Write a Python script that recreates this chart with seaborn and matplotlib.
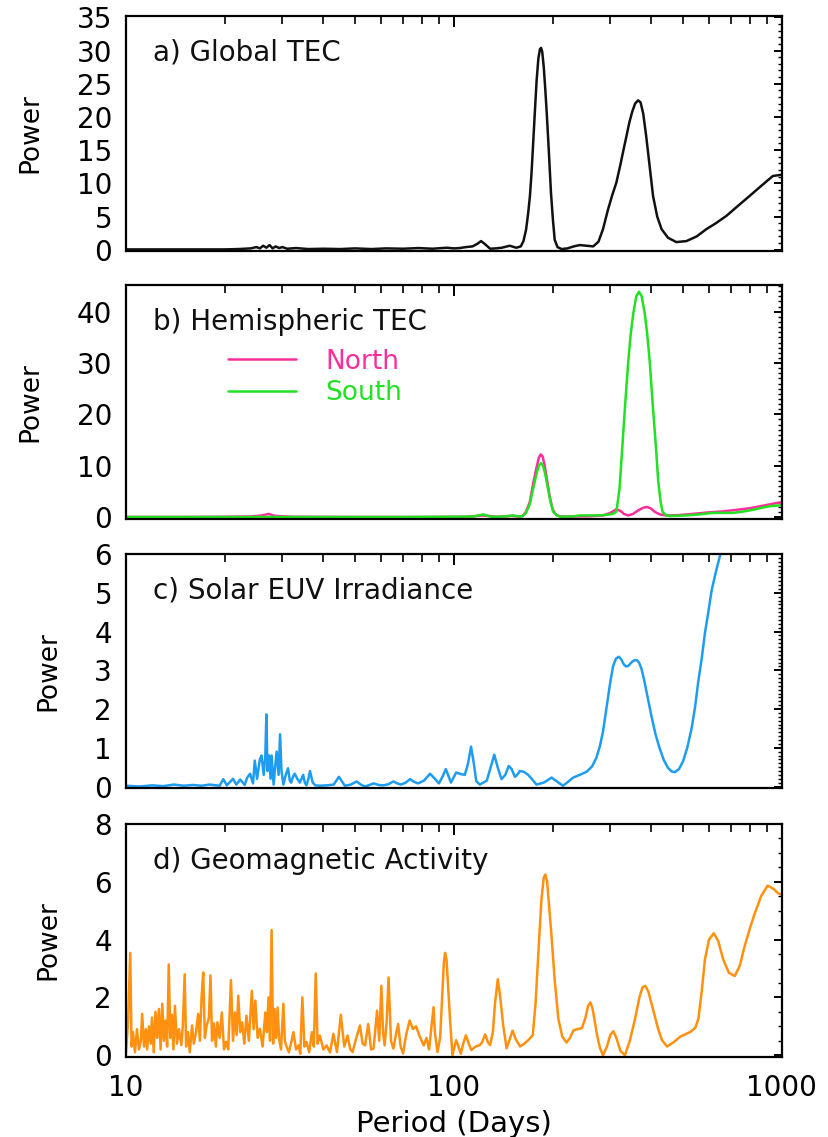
import matplotlib
matplotlib.use("Agg")
import matplotlib.pyplot as plt
import numpy as np
import pandas as pd
import seaborn as sns
from matplotlib.ticker import MultipleLocator, FixedLocator, LogLocator, NullFormatter

# ---------------- data ----------------
# a) Global TEC
period_a = [10, 12, 15, 18, 20, 22, 24, 25, 25.6, 26.2,
            26.8, 27.4, 28, 28.6, 29.3, 30, 31, 33, 36, 40,
            45, 50, 56, 62, 70, 78, 86, 95, 100, 104,
            109, 114, 118, 121, 124, 129, 134, 140, 148, 155,
            160, 163, 166, 168.5, 170.6, 172.5, 174.5, 176.7, 178.8, 181,
            183, 184.5, 186, 188, 190, 192, 194.5, 197.8, 200.5, 203,
            207, 213, 222, 232, 242, 254, 266, 276, 285, 295,
            304, 313, 322, 329, 336, 343, 350, 357, 364.5, 371,
            378, 386, 395, 405, 417, 430, 450, 477, 512, 550,
            589, 630, 678, 735, 798, 865, 939, 1000]
power_a = [0.05, 0.05, 0.05, 0.05, 0.05, 0.1, 0.2, 0.4, 0.2, 0.6,
           0.3, 0.7, 0.2, 0.5, 0.25, 0.4, 0.15, 0.25, 0.1, 0.15,
           0.1, 0.2, 0.1, 0.2, 0.15, 0.25, 0.15, 0.3, 0.2, 0.25,
           0.4, 0.5, 0.9, 1.3, 0.9, 0.15, 0.2, 0.3, 0.6, 0.3,
           0.5, 1.3, 3.0, 5.5, 8.1, 11.5, 16.0, 21.0, 25.5, 28.8,
           30.2, 30.4, 29.8, 27.5, 24.2, 20.5, 15.5, 8.5, 4.5, 1.5,
           0.4, 0.1, 0.2, 0.5, 0.7, 0.6, 0.5, 1.2, 3.1, 6.0,
           8.2, 10.1, 12.8, 15.0, 17.1, 19.2, 20.8, 22.0, 22.5, 22.2,
           20.5, 17.1, 12.8, 8.1, 5.0, 3.1, 1.8, 1.15, 1.3, 2.0,
           3.1, 4.0, 5.1, 6.6, 8.1, 9.6, 11.1, 11.3]

# b) Hemispheric TEC
period_north = [10, 15, 20, 24, 26, 27.2, 28.5, 32, 50, 80,
                110, 122.8, 135, 150, 158, 162, 166, 170.6, 174.5, 178.5,
                181.5, 184, 186.5, 189, 192, 196, 200, 205, 212, 230,
                260, 285, 300, 313, 322, 330, 340, 352, 365, 378,
                388, 398, 410, 425, 445, 480, 535, 600, 662, 730,
                798, 860, 918, 960, 1000]
power_north = [0.0, 0.0, 0.05, 0.1, 0.3, 0.6, 0.2, 0.05, 0.0, 0.0,
               0.05, 0.3, 0.05, 0.2, 0.1, 0.2, 1.0, 3.0, 6.5, 9.5,
               11.5, 12.2, 11.8, 10.2, 7.5, 4.0, 1.5, 0.4, 0.1, 0.1,
               0.15, 0.3, 0.8, 1.5, 1.2, 0.6, 0.3, 0.6, 1.3, 1.8,
               1.95, 1.7, 1.0, 0.5, 0.3, 0.35, 0.6, 0.9, 1.1, 1.4,
               1.7, 2.1, 2.45, 2.7, 2.85]
period_south = [10, 20, 40, 70, 100, 115, 122.8, 130, 140, 151.6,
                158, 162, 166, 170.6, 174.5, 178.5, 181.5, 184.5, 187, 190,
                193, 197, 201, 206, 212, 230, 242, 270, 292, 305,
                313, 320, 326.6, 333, 340, 346, 352.6, 360, 367, 374,
                382, 389, 396, 404, 413, 420, 427, 433, 445, 456,
                512, 560, 617, 711, 770, 818, 870, 918, 1000]
power_south = [0.0, 0.0, 0.0, 0.0, 0.05, 0.1, 0.5, 0.05, 0.05, 0.3,
               0.1, 0.15, 0.8, 2.6, 5.5, 8.3, 10.0, 10.5, 10.0, 8.3,
               6.0, 3.0, 1.0, 0.3, 0.05, 0.1, 0.3, 0.3, 0.4, 0.6,
               1.0, 5.5, 13.9, 22.0, 30.0, 35.5, 39.7, 43.0, 43.9, 43.0,
               39.7, 35.5, 30.0, 22.0, 13.9, 7.0, 3.0, 1.0, 0.3, 0.2,
               0.3, 0.5, 0.8, 0.8, 1.1, 1.4, 1.8, 2.1, 2.3]

# c) Solar EUV irradiance
period_c = [10, 11, 12, 13, 14, 15, 16, 17, 18, 19.3,
            19.8, 20.3, 21.2, 21.7, 22.3, 23.0, 23.4, 23.9, 24.4, 24.7,
            25.1, 25.6, 25.9, 26.3, 26.6, 26.8, 27.0, 27.3, 27.6, 27.8,
            28.2, 28.5, 28.8, 29.2, 29.5, 29.8, 30.2, 30.7, 31.2, 31.6,
            31.9, 32.3, 32.7, 33.3, 33.9, 34.3, 34.7, 35.1, 35.5, 36.0,
            36.4, 37.1, 37.8, 39, 41, 43, 44.6, 46.5, 48.5, 50.5,
            52, 53.6, 55.3, 56.9, 59, 61, 63.2, 65.4, 67.2, 69,
            71.3, 73.5, 75.6, 77.7, 81, 84.6, 87.5, 90, 92.3, 94.5,
            96, 98, 101.6, 105, 108, 110.5, 112.8, 115, 117, 120,
            123, 126, 129.5, 132.8, 136, 139.7, 143.5, 147, 150, 153.5,
            156, 159, 163.5, 168.5, 173.5, 178.6, 188, 198.6, 207, 215,
            223, 231, 242, 254, 264, 272, 279, 285, 290, 295,
            300, 306, 312, 318.5, 324, 330, 335, 340, 346, 352,
            357, 362, 367, 373, 380, 390, 400, 412, 424, 437,
            450, 461, 472, 486, 500, 515, 531, 544, 556, 570,
            583, 597, 611, 630, 650, 670]
power_c = [0.02, 0.0, 0.03, 0.01, 0.05, 0.02, 0.04, 0.02, 0.05, 0.02,
           0.19, 0.03, 0.2, 0.05, 0.18, 0.04, 0.22, 0.33, 0.08, 0.67,
           0.2, 0.7, 0.8, 0.3, 0.8, 1.86, 0.4, 0.8, 0.2, 0.8,
           0.05, 0.5, 0.9, 0.3, 1.35, 0.4, 0.05, 0.3, 0.47, 0.15,
           0.1, 0.25, 0.33, 0.2, 0.1, 0.2, 0.3, 0.1, 0.03, 0.2,
           0.4, 0.1, 0.03, 0.02, 0.03, 0.05, 0.25, 0.02, 0.05, 0.13,
           0.05, 0.0, 0.04, 0.08, 0.04, 0.03, 0.06, 0.13, 0.08, 0.05,
           0.1, 0.19, 0.12, 0.08, 0.15, 0.33, 0.2, 0.08, 0.25, 0.45,
           0.3, 0.1, 0.36, 0.32, 0.3, 0.6, 1.03, 0.6, 0.14, 0.05,
           0.1, 0.15, 0.5, 0.82, 0.5, 0.19, 0.3, 0.53, 0.45, 0.25,
           0.3, 0.4, 0.38, 0.3, 0.18, 0.05, 0.1, 0.23, 0.12, 0.02,
           0.12, 0.23, 0.3, 0.38, 0.52, 0.74, 1.05, 1.42, 1.85, 2.26,
           2.7, 3.11, 3.3, 3.35, 3.28, 3.15, 3.1, 3.11, 3.18, 3.24,
           3.26, 3.26, 3.2, 3.05, 2.77, 2.3, 1.84, 1.35, 0.99, 0.68,
           0.48, 0.39, 0.37, 0.45, 0.65, 1.0, 1.5, 2.05, 2.69, 3.3,
           3.96, 4.5, 5.06, 5.55, 6.0, 6.45]

# d) Geomagnetic activity
period_d = [10.0, 10.15, 10.3, 10.4, 10.5, 10.65, 10.8, 10.95, 11.1, 11.2,
            11.35, 11.5, 11.6, 11.75, 11.9, 12.0, 12.15, 12.3, 12.45, 12.6,
            12.75, 12.9, 13.05, 13.2, 13.35, 13.5, 13.65, 13.8, 13.95, 14.1,
            14.3, 14.5, 14.75, 14.9, 15.1, 15.25, 15.45, 15.65, 15.9, 16.1,
            16.35, 16.6, 16.8, 17.0, 17.2, 17.4, 17.6, 17.9, 18.1, 18.3,
            18.55, 18.8, 19.0, 19.3, 19.6, 19.9, 20.2, 20.5, 20.9, 21.2,
            21.5, 21.75, 22.0, 22.3, 22.6, 22.95, 23.3, 23.7, 24.2, 24.5,
            24.8, 25.2, 25.6, 26.1, 26.6, 26.9, 27.2, 27.5, 27.8, 28.1,
            28.4, 28.7, 29.0, 29.3, 29.7, 30.2, 30.5, 30.8, 31.4, 32.0,
            32.4, 33.0, 33.6, 34.0, 34.5, 35.0, 35.5, 36.2, 36.9, 37.4,
            37.9, 38.4, 39.0, 40.0, 40.9, 41.9, 42.9, 44.0, 45.2, 46.3,
            47.4, 48.3, 49.1, 50.4, 51.7, 52.7, 53.6, 54.8, 55.9, 56.9,
            57.6, 58.3, 59.2, 60.1, 60.8, 61.5, 62.4, 63.2, 64.3, 65.4,
            66.5, 67.6, 68.8, 70.0, 71.5, 73.3, 75.0, 76.7, 78.5, 80.9,
            82.5, 84.0, 85.5, 86.7, 87.5, 89.1, 90.8, 92.3, 93.2, 94.0,
            95.0, 96.0, 97.3, 99.0, 101.6, 103.3, 105.0, 106.8, 108.8, 111.0,
            113.0, 116.5, 119.9, 122.0, 124.6, 127.0, 129.0, 131.5, 133.5, 136.1,
            138.5, 141.4, 144.8, 148.0, 151.0, 154.5, 159.2, 164.0, 168.5, 174.0,
            177.5, 181.0, 185.0, 188.0, 190.0, 192.5, 195.0, 198.6, 203.0, 208.3,
            214.0, 220.5, 226.0, 231.5, 238.0, 245.7, 252.0, 256.5, 260.8, 265.0,
            273.4, 279.0, 285.0, 293.0, 300.0, 306.6, 313.0, 322.0, 332.5, 344.0,
            357.0, 368.0, 376.0, 383.6, 392.0, 407.0, 420.0, 431.4, 447.0, 468.0,
            490.0, 527.0, 545.0, 557.0, 570.0, 583.0, 600.0, 620.6, 640.0, 663.0,
            690.0, 719.0, 745.0, 770.0, 800.0, 827.0, 865.0, 906.0, 945.0, 975.0,
            1000.0]
power_d = [0.1, 1.2, 3.54, 0.3, 0.8, 0.1, 0.9, 0.2, 0.5, 1.43,
           0.3, 0.9, 0.2, 1.0, 0.4, 1.3, 0.1, 1.5, 0.6, 1.6,
           0.2, 1.78, 0.5, 1.2, 0.3, 3.14, 0.6, 1.4, 0.2, 1.71,
           0.4, 0.9, 0.35, 1.0, 2.8, 0.3, 0.8, 0.1, 1.03, 0.4,
           0.8, 1.43, 0.5, 2.0, 2.86, 0.6, 1.0, 1.3, 2.76, 0.5,
           1.1, 0.3, 1.14, 0.6, 1.48, 0.2, 0.46, 0.2, 2.6, 0.5,
           1.48, 0.7, 2.06, 0.8, 1.14, 0.4, 1.37, 0.5, 2.23, 0.9,
           1.89, 0.6, 0.91, 0.3, 1.48, 0.8, 2.0, 0.5, 4.33, 0.4,
           1.6, 0.6, 1.65, 0.57, 0.2, 1.78, 0.5, 0.34, 0.1, 0.5,
           0.8, 0.2, 0.34, 0.05, 2.0, 0.3, 0.46, 0.1, 0.8, 0.3,
           2.83, 0.4, 0.68, 0.2, 0.34, 0.1, 0.74, 0.11, 1.4, 0.3,
           0.68, 0.2, 0.11, 0.6, 1.03, 0.4, 0.34, 1.08, 0.2, 0.23,
           0.9, 1.54, 0.5, 2.4, 0.8, 0.34, 1.2, 2.69, 0.5, 0.23,
           0.7, 1.08, 0.3, 0.06, 0.7, 1.2, 0.91, 1.0, 0.68, 0.34,
           0.6, 0.2, 1.0, 1.66, 0.8, 0.11, 0.6, 2.2, 3.2, 3.54,
           3.3, 2.4, 1.26, 0.0, 0.52, 0.3, 0.05, 0.4, 0.69, 0.4,
           0.18, 0.3, 0.35, 0.45, 0.72, 0.45, 0.35, 0.8, 1.8, 2.63,
           2.0, 1.03, 0.24, 0.55, 0.85, 0.55, 0.3, 0.4, 0.52, 0.69,
           1.8, 3.54, 5.4, 6.15, 6.25, 6.0, 5.2, 4.1, 2.6, 1.26,
           0.65, 0.44, 0.6, 0.86, 0.9, 0.94, 1.3, 1.7, 1.83, 1.6,
           0.69, 0.25, 0.0, 0.3, 0.7, 0.83, 0.6, 0.15, 0.0, 0.5,
           1.26, 2.0, 2.35, 2.4, 2.2, 1.49, 0.9, 0.52, 0.3, 0.45,
           0.64, 0.81, 0.95, 1.26, 2.2, 3.31, 4.0, 4.22, 3.95, 3.31,
           2.85, 2.74, 3.1, 3.76, 4.4, 4.9, 5.5, 5.87, 5.75, 5.6,
           5.56]

panel_titles = ["a) Global TEC", "b) Hemispheric TEC",
                "c) Solar EUV Irradiance", "d) Geomagnetic Activity"]
hemispheres = ["North", "South"]
x_ticks = [10, 100, 1000]
x_tick_labels = ["10", "100", "1000"]

# ---------------- style ----------------
sns.set_theme(style="white")
plt.rcParams['font.family'] = ['DejaVu Sans']
plt.rcParams['axes.linewidth'] = 1.6

LW = 1.8
colors = {"a": "#111111", "North": "#ff2d9b", "South": "#22e022",
          "c": "#1e9cf0", "d": "#ff9010"}

fig = plt.figure(figsize=(8.29, 11.37), dpi=100)
left, width = 0.152, 0.791
rects = [(left, 0.7792, width, 0.2067),
         (left, 0.5435, width, 0.2058),
         (left, 0.3069, width, 0.2058),
         (left, 0.0704, width, 0.2049)]
axes = [fig.add_axes(r) for r in rects]

# a
df_a = pd.DataFrame({"period": period_a, "power": power_a})
sns.lineplot(data=df_a, x="period", y="power", ax=axes[0], color=colors["a"],
             lw=LW, estimator=None, sort=False)

# b
df_b = pd.concat([
    pd.DataFrame({"period": period_north, "power": power_north, "hemi": "North"}),
    pd.DataFrame({"period": period_south, "power": power_south, "hemi": "South"}),
], ignore_index=True)
sns.lineplot(data=df_b, x="period", y="power", hue="hemi", hue_order=hemispheres,
             palette={h: colors[h] for h in hemispheres}, ax=axes[1], lw=LW,
             estimator=None, sort=False)

# c
df_c = pd.DataFrame({"period": period_c, "power": power_c})
sns.lineplot(data=df_c, x="period", y="power", ax=axes[2], color=colors["c"],
             lw=LW, estimator=None, sort=False)

# d
df_d = pd.DataFrame({"period": period_d, "power": power_d})
sns.lineplot(data=df_d, x="period", y="power", ax=axes[3], color=colors["d"],
             lw=LW, estimator=None, sort=False)

ylims = [(-0.2, 35.2), (-0.4, 45.2), (-0.04, 6.0), (-0.06, 8.0)]
ymaj = [5, 10, 1, 2]
ymin = [1, 1, 0.1, 0.5]

for i, ax in enumerate(axes):
    ax.set_xscale("log")
    ax.set_xlim(10, 1000)
    ax.set_ylim(*ylims[i])
    ax.yaxis.set_major_locator(MultipleLocator(ymaj[i]))
    ax.yaxis.set_minor_locator(MultipleLocator(ymin[i]))
    ax.xaxis.set_major_locator(FixedLocator(x_ticks))
    ax.xaxis.set_minor_locator(LogLocator(base=10, subs=np.arange(2, 10)))
    ax.xaxis.set_minor_formatter(NullFormatter())
    ax.yaxis.set_major_formatter(matplotlib.ticker.FuncFormatter(lambda v, p: f"{v:g}"))
    ax.tick_params(which="both", direction="in", top=True, right=True,
                   color="black", labelcolor="black")
    ax.tick_params(axis="x", which="major", length=8, width=1.4, pad=12, labelsize=20)
    ax.tick_params(axis="x", which="minor", length=6, width=1.2)
    ax.tick_params(axis="y", which="major", length=6, width=1.4, pad=10, labelsize=20)
    ax.tick_params(axis="y", which="minor", length=3, width=1.0)
    for s in ax.spines.values():
        s.set_color("black")
        s.set_linewidth(1.6)
    ax.set_ylabel("Power", fontsize=19, labelpad=24, color="black")
    ax.text(0.041, 0.843, panel_titles[i], transform=ax.transAxes,
            fontsize=20, va="center", ha="left", color="#111111")
    if i < 3:
        ax.tick_params(axis="x", labelbottom=False)
        ax.set_xlabel("")
    else:
        ax.set_xticks(x_ticks)
        ax.set_xticklabels(x_tick_labels)
        ax.set_xlabel("Period (Days)", fontsize=21, labelpad=6, color="black")

# legend for hemispheres
handles, labels = axes[1].get_legend_handles_labels()
axes[1].legend(handles, labels, loc="upper left", bbox_to_anchor=(0.155, 0.728),
               frameon=False, fontsize=19, handlelength=2.6, handletextpad=1.1,
               labelspacing=0.2, borderpad=0, borderaxespad=0, labelcolor="linecolor")

fig.savefig("out.png", dpi=100)
